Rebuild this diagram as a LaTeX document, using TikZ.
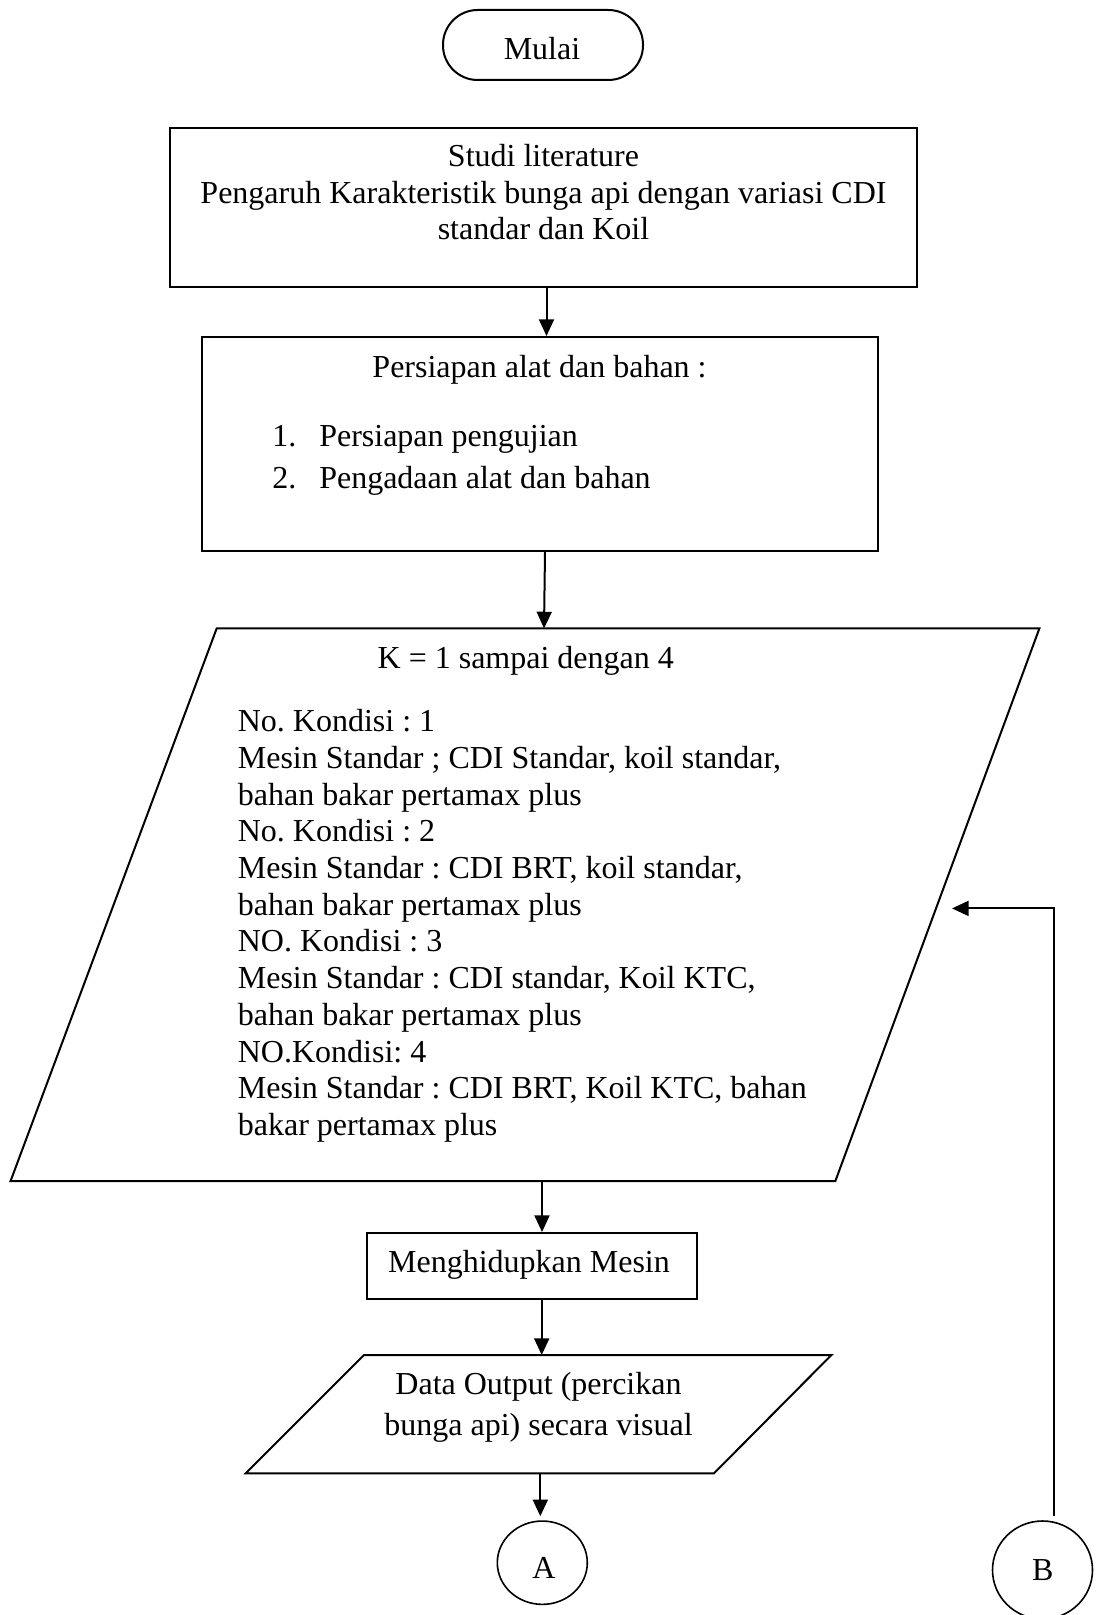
\documentclass[tikz,border=0pt]{standalone}
\usepackage{fontspec}
\setmainfont{Liberation Serif}
\frenchspacing
\usetikzlibrary{arrows.meta,calc,shapes.geometric}
\begin{document}
\begin{tikzpicture}[x=0.75pt,y=-0.75pt,
  box/.style={draw,line width=1.5pt,inner sep=0pt,rectangle},
  term/.style={draw,line width=1.5pt,rectangle,rounded corners=26pt,inner sep=0pt},
  iopath/.style={draw,line width=1.5pt,line join=miter},
  conn/.style={draw,line width=1.2pt,ellipse,inner sep=0pt},
  txt/.style={anchor=base,inner sep=0pt,font=\fontsize{24}{27.6}\selectfont},
  txtl/.style={txt,anchor=base west},
  arr/.style={line width=1.5pt,-{Triangle[length=12.5pt,width=11.25pt]}}]
\useasboundingbox (0,0) rectangle (1096,1615);

% shapes
\node[term,minimum width=150pt,minimum height=52.5pt] (mulai) at (543,45) {};
\node[box,minimum width=560.25pt,minimum height=119.25pt] (studi) at (543.5,207.5) {};
\node[box,minimum width=507pt,minimum height=160.5pt] (siap) at (540,444) {};
% big input parallelogram
\coordinate (bigTL) at (216.7,628.4);
\coordinate (bigTR) at (1039.4,628.4);
\coordinate (bigBR) at (835.3,1181.2);
\coordinate (bigBL) at (10.5,1181.2);
\draw[iopath] (bigTL) -- (bigTR) -- (bigBR) -- (bigBL) -- cycle;
\coordinate (bigN) at (544,628.4);
\coordinate (bigS) at (542,1181.2);
\node[box,minimum width=247.5pt,minimum height=49.5pt] (mesin) at (532,1266) {};
% output parallelogram
\coordinate (dataTL) at (364,1355);
\coordinate (dataTR) at (831.4,1355);
\coordinate (dataBR) at (714,1473.3);
\coordinate (dataBL) at (245.7,1473.3);
\draw[iopath] (dataTL) -- (dataTR) -- (dataBR) -- (dataBL) -- cycle;
\coordinate (dataN) at (541.7,1355);
\coordinate (dataS) at (540.3,1473.3);
\node[conn,minimum width=67.5pt,minimum height=62.5pt] (A) at (542.3,1562.7) {};
\node[conn,minimum width=75pt,minimum height=73.5pt] (B) at (1042.5,1570) {};

% texts
\node[txt] (tmulai) at (542,59.3) {Mulai};
\node[txt] (tstudi1) at (543.5,167) {Studi literature};
\node[txt] (tstudi2) at (543.5,204) {Pengaruh Karakteristik bunga api dengan variasi CDI};
\node[txt] (tstudi3) at (543.5,240) {standar dan Koil};
\node[txt] (tsiap) at (539.5,377.7) {Persiapan alat dan bahan :};
\node[txtl] (n1) at (272,446) {1.};
\node[txtl] (l1) at (319,446) {Persiapan pengujian};
\node[txtl] (n2) at (272,488) {2.};
\node[txtl] (l2) at (319,488) {Pengadaan alat dan bahan};
\node[txtl] (tk) at (377.4,668.6) {K = 1 sampai dengan 4};
\foreach \t [count=\i from 0] in {
  {No. Kondisi : 1},
  {Mesin Standar ; CDI Standar, koil standar,},
  {bahan bakar pertamax plus},
  {No. Kondisi : 2},
  {Mesin Standar : CDI BRT, koil standar,},
  {bahan bakar pertamax plus},
  {NO. Kondisi : 3},
  {Mesin Standar : CDI standar, Koil KTC,},
  {bahan bakar pertamax plus},
  {NO.Kondisi: 4},
  {Mesin Standar : CDI BRT, Koil KTC, bahan},
  {bakar pertamax plus}}
  \node[txtl] (tb\i) at (237.6,731.7+36.7*\i) {\t};
\node[txt] (tmesin) at (529,1272.7) {Menghidupkan Mesin};
\node[txt] (tdata1) at (538.5,1394) {Data Output (percikan};
\node[txt] (tdata2) at (538.5,1435) {bunga api) secara visual};
\node[txt] (tA) at (544,1578.3) {A};
\node[txt] (tB) at (1042.7,1580) {B};

% connectors
\draw[arr] ($(studi.south)+(3,0)$) -- ($(studi.south |- siap.north)+(3,0)$);
\draw[arr] ($(siap.south)+(5,0)$) -- (bigN);
\draw[arr] (bigS) -- ($(mesin.north)+(10,0)$);
\draw[arr] ($(mesin.south)+(9.7,0)$) -- (dataN);
\draw[arr] (dataS) -- ($(A.north)+(-2,-4)$);
\coordinate (loopin) at (952,908.4);
\draw[arr] ($(B.north)+(11.5,-4.3)$) |- (loopin);
\end{tikzpicture}
\end{document}
